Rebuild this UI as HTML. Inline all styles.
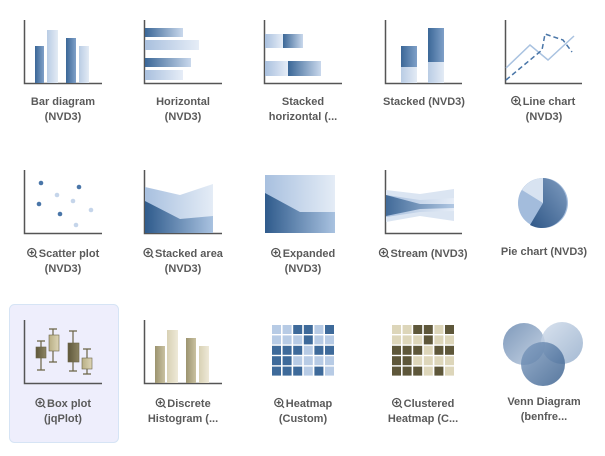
<!DOCTYPE html>
<html><head><meta charset="utf-8"><style>
body{margin:0;background:#fff;width:605px;height:451px;overflow:hidden}
text{font-family:"Liberation Sans",sans-serif;font-weight:bold;font-size:11px;fill:#5a5a5a;text-anchor:middle}
</style></head><body>
<svg width="605" height="451" viewBox="0 0 605 451" xmlns="http://www.w3.org/2000/svg">
<defs>
<linearGradient id="bd" x1="0" x2="1"><stop offset="0" stop-color="#3b6797"/><stop offset="1" stop-color="#7fa0c8"/></linearGradient>
<linearGradient id="bl" x1="0" x2="1"><stop offset="0" stop-color="#b9cce4"/><stop offset="1" stop-color="#e3ebf5"/></linearGradient>
<linearGradient id="hd" x1="0" x2="1"><stop offset="0" stop-color="#3b6797"/><stop offset="1" stop-color="#c9d8ec"/></linearGradient>
<linearGradient id="hl" x1="0" x2="1"><stop offset="0" stop-color="#a9c0de"/><stop offset="1" stop-color="#e6edf7"/></linearGradient>
<linearGradient id="ar" x1="0" x2="1"><stop offset="0" stop-color="#2f5b8c"/><stop offset="1" stop-color="#a9c2e0"/></linearGradient>
<linearGradient id="al" x1="0" x2="1"><stop offset="0" stop-color="#a8c0df"/><stop offset="1" stop-color="#e4ecf6"/></linearGradient>
<linearGradient id="td" x1="0" x2="1"><stop offset="0" stop-color="#9c9470"/><stop offset="1" stop-color="#c9c1a0"/></linearGradient>
<linearGradient id="tl" x1="0" x2="1"><stop offset="0" stop-color="#d8d1b4"/><stop offset="1" stop-color="#eee9d8"/></linearGradient>
<linearGradient id="tb" x1="0" x2="1"><stop offset="0" stop-color="#5e573a"/><stop offset="1" stop-color="#8d8564"/></linearGradient>
<linearGradient id="tb2" x1="0" x2="1"><stop offset="0" stop-color="#b8ae85"/><stop offset="1" stop-color="#ddd5b6"/></linearGradient>
<linearGradient id="pd" x1="1" y1="0" x2="0" y2="1"><stop offset="0" stop-color="#7f9cc0"/><stop offset="1" stop-color="#2f5787"/></linearGradient>
<linearGradient id="v1" x1="0" y1="0" x2="1" y2="1"><stop offset="0" stop-color="#5f80aa"/><stop offset="1" stop-color="#b8c9de"/></linearGradient>
<linearGradient id="v2" x1="0" y1="0" x2="1" y2="1"><stop offset="0" stop-color="#cfdbea"/><stop offset="1" stop-color="#8ea8c8"/></linearGradient>
<linearGradient id="v3" x1="0" y1="0" x2="1" y2="1"><stop offset="0" stop-color="#7f9cc0"/><stop offset="1" stop-color="#2f5787"/></linearGradient>
</defs>

<rect x="9.5" y="304.5" width="109" height="138" rx="5" fill="#eeeefc" stroke="#d6e4f5"/>

<g stroke="#555" stroke-width="1.5" fill="none">
<path d="M24.5 20V83.5H102"/><path d="M144.5 20V83.5H222"/><path d="M264.5 20V83.5H342"/><path d="M385.5 20V83.5H462"/><path d="M505.5 20V83.5H582"/>
<path d="M24.5 170V233.5H102"/><path d="M144.5 170V233.5H222"/><path d="M385.5 170V233.5H462"/>
<path d="M24.5 320V383.5H102"/><path d="M144.5 320V383.5H222"/>
</g>

<rect x="35" y="46" width="9" height="37" fill="url(#bd)"/>
<rect x="47" y="30" width="11" height="53" fill="url(#bl)"/>
<rect x="66" y="38" width="10" height="45" fill="url(#bd)"/>
<rect x="79" y="46" width="10" height="37" fill="url(#bl)"/>
<rect x="145" y="28" width="38" height="9" fill="url(#hd)"/>
<rect x="145" y="40" width="54" height="10" fill="url(#hl)"/>
<rect x="145" y="58" width="46" height="9" fill="url(#hd)"/>
<rect x="145" y="70" width="38" height="10" fill="url(#hl)"/>
<rect x="265" y="34" width="18" height="14" fill="url(#hl)"/>
<rect x="283" y="34" width="20" height="14" fill="url(#hd)"/>
<rect x="265" y="61" width="23" height="15" fill="url(#hl)"/>
<rect x="288" y="61" width="33" height="15" fill="url(#hd)"/>
<rect x="401" y="46" width="16" height="21" fill="url(#bd)"/>
<rect x="401" y="67" width="16" height="16" fill="url(#bl)"/>
<rect x="428" y="28" width="16" height="34" fill="url(#bd)"/>
<rect x="428" y="62" width="16" height="21" fill="url(#bl)"/>
<polyline points="506,68 530,45 548,60 574,36" fill="none" stroke="#a9c2e0" stroke-width="1.5"/>
<polyline points="506,80 542,50 545,34 563,40 572,52" fill="none" stroke="#4a76a8" stroke-width="1.5" stroke-dasharray="5,3"/>

<g fill="#4a76a8"><circle cx="41" cy="183" r="2.3"/><circle cx="79" cy="187" r="2.3"/><circle cx="39" cy="204" r="2.3"/><circle cx="60" cy="214" r="2.3"/></g>
<g fill="#c5d5ea"><circle cx="57" cy="195" r="2.3"/><circle cx="73" cy="201" r="2.3"/><circle cx="91" cy="210" r="2.3"/><circle cx="76" cy="225" r="2.3"/></g>
<path d="M145 187L180 195L213 184V233H145Z" fill="url(#al)"/>
<path d="M145 201L180 219L213 216V233H145Z" fill="url(#ar)"/>
<rect x="265" y="175" width="70" height="58" fill="url(#al)"/>
<path d="M265 193L300 212H335V233H265Z" fill="url(#ar)"/>
<path d="M386 190L420 194L454 189V221L420 216L386 222Z" fill="#dbe5f2"/>
<path d="M386 195L420 200L454 198V211L420 212L386 217Z" fill="url(#hl)"/>
<path d="M386 195L420 204H454V208L420 209L386 216Z" fill="url(#ar)" opacity=".85"/>
<circle cx="543" cy="203" r="25" fill="#a3bcdc"/>
<path d="M543 203L543 178A25 25 0 1 1 530 225Z" fill="url(#pd)"/>
<path d="M543 203L522 190A25 25 0 0 1 543 178Z" fill="#d8e3f1"/>

<g stroke="#6b6446" stroke-width="1.2">
<path d="M41 341V370M37 341H45M37 370H45"/>
<path d="M53 329V362M49 329H57M49 362H57"/>
<path d="M73 331V371M69 331H77M69 371H77"/>
<path d="M87 349V374M83 349H91M83 374H91"/>
</g>
<rect x="36" y="347" width="10" height="11" fill="url(#tb)" stroke="#6b6446" stroke-width=".6"/>
<rect x="49" y="335" width="10" height="16" fill="url(#tb2)" stroke="#6b6446" stroke-width=".6"/>
<rect x="68" y="343" width="11" height="19" fill="url(#tb)" stroke="#6b6446" stroke-width=".6"/>
<rect x="82" y="358" width="10" height="11" fill="url(#tb2)" stroke="#6b6446" stroke-width=".6"/>
<rect x="155" y="346" width="10" height="37" fill="url(#td)"/>
<rect x="167" y="330" width="11" height="53" fill="url(#tl)"/>
<rect x="186" y="338" width="10" height="45" fill="url(#td)"/>
<rect x="199" y="346" width="10" height="37" fill="url(#tl)"/>

<g id="hm"></g>
<circle cx="524" cy="344" r="21" fill="url(#v1)" opacity=".8"/>
<circle cx="562" cy="343" r="21" fill="url(#v2)" opacity=".8"/>
<circle cx="543" cy="364" r="22" fill="url(#v3)" opacity=".8"/>

<text x="63" y="105">Bar diagram</text><text x="63" y="120">(NVD3)</text>
<text x="183" y="105">Horizontal</text><text x="183" y="120">(NVD3)</text>
<text x="303" y="105">Stacked</text><text x="303" y="120">horizontal (...</text>
<text x="424" y="105">Stacked (NVD3)</text>
<text class="m" x="549" y="105">Line chart</text><text x="544" y="120">(NVD3)</text>
<text class="m" x="69" y="257">Scatter plot</text><text x="63" y="272">(NVD3)</text>
<text class="m" x="189" y="257">Stacked area</text><text x="183" y="272">(NVD3)</text>
<text class="m" x="309" y="257">Expanded</text><text x="303" y="272">(NVD3)</text>
<text class="m" x="429" y="257">Stream (NVD3)</text>
<text x="544" y="255">Pie chart (NVD3)</text>
<text class="m" x="69" y="407">Box plot</text><text x="63" y="422">(jqPlot)</text>
<text class="m" x="189" y="407">Discrete</text><text x="183" y="422">Histogram (...</text>
<text class="m" x="309" y="407">Heatmap</text><text x="303" y="422">(Custom)</text>
<text class="m" x="429" y="407">Clustered</text><text x="423" y="422">Heatmap (C...</text>
<text x="544" y="405">Venn Diagram</text><text x="544" y="420">(benfre...</text>
</svg>
<script>
var pat=["LLDDLD","LLLDLL","DDDLDD","DDLLLL","DDDLDL"];
var s='';
function grid(x0,y0,d,l){for(var r=0;r<5;r++)for(var c=0;c<6;c++){var k=pat[r][c]=='D';s+='<rect x="'+(x0+c*10.6)+'" y="'+(y0+r*10.4)+'" width="9" height="9" fill="'+(k?d:l)+'"/>';}}
grid(272,325,'#3e6a9a','#b7cbe5');
grid(392,325,'#5e573a','#ddd6ba');
document.getElementById('hm').innerHTML=s;
var g='';
document.querySelectorAll('text.m').forEach(function(t){
 var w=t.getComputedTextLength();var x=parseFloat(t.getAttribute('x'))-w/2;var y=parseFloat(t.getAttribute('y'));
 var cx=x-7,cy=y-4.5;
 g+='<g stroke="#555" stroke-width="1.3" fill="none"><circle cx="'+cx+'" cy="'+cy+'" r="4"/><path d="M'+(cx-2.2)+' '+cy+'h4.4M'+cx+' '+(cy-2.2)+'v4.4M'+(cx+2.8)+' '+(cy+2.8)+'l2.5 2.5"/></g>';
});
document.querySelector('svg').insertAdjacentHTML('beforeend',g);
</script>
</body></html>
